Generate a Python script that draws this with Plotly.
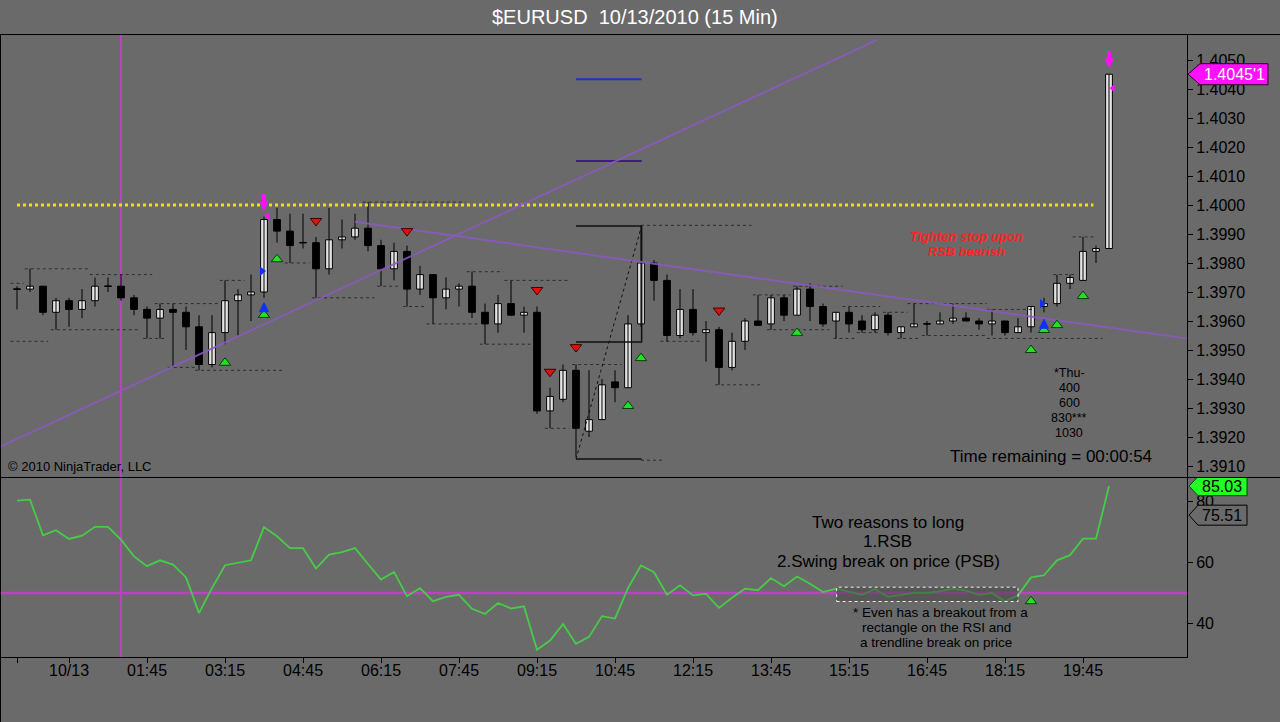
import plotly.graph_objects as go

W, H = 1280, 722
FONT = "Liberation Sans, Arial, sans-serif"

# ---------------- data ----------------
tick_k = [0, 4, 10, 16, 22, 28, 34, 40, 46, 52, 58, 64, 70, 76, 82]
tick_text = ['', '10/13', '01:45', '03:15', '04:45', '06:15', '07:45', '09:15',
             '10:45', '12:15', '13:45', '15:15', '16:45', '18:15', '19:45']

opens = [1.3971, 1.3971, 1.3972, 1.3963, 1.3967, 1.3964, 1.3967, 1.3972, 1.3972, 1.3968,
         1.3964, 1.3961, 1.3964, 1.3963, 1.3958, 1.3945, 1.3956, 1.3967, 1.3969, 1.3970,
         1.3995, 1.3991, 1.3987, 1.3987, 1.3978, 1.3988, 1.3989, 1.3992, 1.3986, 1.3978,
         1.3984, 1.3971, 1.3976, 1.3968, 1.3971, 1.3972, 1.3963, 1.3959, 1.3966, 1.3962,
         1.3963, 1.3929, 1.3933, 1.3943, 1.3922, 1.3926, 1.3939, 1.3937, 1.3959, 1.3980,
         1.3974, 1.3955, 1.3964, 1.3956, 1.3957, 1.3944, 1.3953, 1.3960, 1.3959, 1.3968,
         1.3962, 1.3971, 1.3965, 1.3960, 1.3963, 1.3960, 1.3957, 1.3962, 1.3956, 1.3958,
         1.3959, 1.3959, 1.3960, 1.3961, 1.3960, 1.3959, 1.3960, 1.3956, 1.3958, 1.3965,
         1.3966, 1.3973, 1.3974, 1.3984, 1.3985]
highs = [1.3972, 1.3978, 1.3972, 1.3968, 1.3968, 1.3971, 1.3975, 1.3975, 1.3976, 1.3969,
         1.3965, 1.3966, 1.3966, 1.3965, 1.3962, 1.3962, 1.3974, 1.3971, 1.3976, 1.3996,
         1.3999, 1.3997, 1.3997, 1.3989, 1.3999, 1.3995, 1.3997, 1.4001, 1.3988, 1.3987,
         1.3986, 1.3979, 1.3976, 1.3975, 1.3973, 1.3977, 1.3966, 1.3969, 1.3974, 1.3965,
         1.3965, 1.3937, 1.3945, 1.3945, 1.3943, 1.3940, 1.3943, 1.3962, 1.3993, 1.3981,
         1.3976, 1.3971, 1.3971, 1.3960, 1.3958, 1.3956, 1.3961, 1.3969, 1.3969, 1.3969,
         1.3972, 1.3973, 1.3966, 1.3963, 1.3965, 1.3962, 1.3963, 1.3963, 1.3958, 1.3966,
         1.3960, 1.3963, 1.3966, 1.3963, 1.3961, 1.3964, 1.3960, 1.3961, 1.3965, 1.3968,
         1.3976, 1.3976, 1.3989, 1.3986, 1.40451]
lows = [1.3964, 1.3970, 1.3962, 1.3957, 1.3958, 1.3961, 1.3965, 1.3970, 1.3967, 1.3962,
        1.3954, 1.3954, 1.3944, 1.3950, 1.3943, 1.3944, 1.3952, 1.3955, 1.3960, 1.3968,
        1.3987, 1.3980, 1.3985, 1.3968, 1.3976, 1.3985, 1.3988, 1.3984, 1.3972, 1.3974,
        1.3965, 1.3969, 1.3959, 1.3964, 1.3965, 1.3961, 1.3952, 1.3956, 1.3962, 1.3956,
        1.3928, 1.3923, 1.3932, 1.3913, 1.3920, 1.3926, 1.3932, 1.3937, 1.3958, 1.3967,
        1.3953, 1.3954, 1.3955, 1.3946, 1.3938, 1.3943, 1.3950, 1.3959, 1.3957, 1.3960,
        1.3962, 1.3960, 1.3958, 1.3954, 1.3956, 1.3956, 1.3956, 1.3955, 1.3954, 1.3958,
        1.3955, 1.3959, 1.3959, 1.3960, 1.3957, 1.3955, 1.3955, 1.3956, 1.3956, 1.3963,
        1.3965, 1.3971, 1.3974, 1.3980, 1.3985]
closes = [1.3971, 1.3972, 1.3963, 1.3967, 1.3964, 1.3967, 1.3972, 1.3972, 1.3968, 1.3964,
          1.3961, 1.3964, 1.3963, 1.3958, 1.3945, 1.3956, 1.3967, 1.3969, 1.3970, 1.3995,
          1.3991, 1.3986, 1.3987, 1.3978, 1.3988, 1.3989, 1.3992, 1.3986, 1.3978, 1.3984,
          1.3971, 1.3976, 1.3968, 1.3971, 1.3972, 1.3963, 1.3959, 1.3966, 1.3962, 1.3963,
          1.3929, 1.3934, 1.3943, 1.3923, 1.3926, 1.3938, 1.3937, 1.3959, 1.3980, 1.3974,
          1.3955, 1.3964, 1.3956, 1.3957, 1.3944, 1.3953, 1.3960, 1.39585, 1.3968, 1.3962,
          1.3971, 1.3965, 1.3959, 1.3963, 1.3959, 1.3957, 1.3962, 1.3956, 1.3958, 1.3959,
          1.3959, 1.3960, 1.3961, 1.3960, 1.3959, 1.3960, 1.3956, 1.3958, 1.3965, 1.3966,
          1.3973, 1.3975, 1.3984, 1.3985, 1.40451]

rsi = [80.3, 80.6, 68.9, 70.6, 67.7, 68.8, 71.7, 71.7, 67.5, 62.0,
       58.8, 60.7, 59.3, 55.1, 43.4, 51.6, 59.1, 59.8, 60.7, 71.6,
       68.6, 64.7, 64.7, 58.0, 62.6, 63.4, 64.7, 59.5, 54.4, 56.9,
       48.9, 51.6, 47.3, 48.7, 49.4, 44.8, 43.1, 46.7, 44.9, 45.6,
       31.4, 34.4, 39.8, 33.3, 35.6, 42.4, 41.6, 51.6, 59.0, 56.8,
       49.4, 52.5, 49.2, 49.7, 45.1, 48.4, 51.4, 50.9, 54.9, 52.2,
       55.4, 53.0, 50.3, 51.4, 50.3, 49.4, 51.3, 48.7, 49.4, 50.0,
       50.0, 50.5, 51.4, 50.8, 49.4, 50.0, 47.3, 49.2, 55.1, 55.8,
       60.7, 62.4, 67.8, 67.8, 85.03]
rsi_avg_last = 75.51
rsi_mid = 50

# swing high/low dashed lines (start bar, end bar, price)
swing_k0 = [-0.5, 0.6, -0.5, 2.6, 5.6, 9.7, 10.6, 11.6, 13.7, 15.6, 20.6, 26.6, 22.7,
            27.7, 29.7, 31.5, 34.6, 37.5, 35.6, 40.6, 42.7, 48.0, 48.0, 49.5, 53.7,
            56.6, 59.7, 57.7, 63.5, 62.8, 64.6, 66.6, 67.7, 68.5, 69.6, 74.6, 74.6,
            79.7, 81.2]
swing_k1 = [0.5, 5.5, 2.4, 9.5, 10.4, 11.5, 15.6, 13.7, 20.5, 17.5, 22.5, 34.5, 27.5,
            29.5, 31.5, 35.5, 37.4, 42.5, 39.5, 42.5, 46.5, 56.5, 49.7, 52.5, 57.4,
            59.5, 63.5, 62.5, 66.4, 64.5, 66.4, 68.5, 69.5, 74.6, 74.5, 78.2, 83.5,
            81.4, 82.8]
swing_p = [1.3973, 1.3978, 1.3953, 1.3957, 1.3976, 1.3954, 1.3966, 1.3944, 1.3943,
           1.3974, 1.3980, 1.4001, 1.3968, 1.3972, 1.3965, 1.3959, 1.3977, 1.3974,
           1.3952, 1.3923, 1.3945, 1.3993, 1.3912, 1.3953, 1.3938, 1.3969, 1.3972,
           1.3957, 1.3965, 1.3954, 1.3956, 1.3963, 1.3954, 1.3966, 1.3955, 1.3964,
           1.3954, 1.3976, 1.3989]

# signal markers
sell_k = [23, 30, 40, 41, 43, 54]
sell_p = [1.39945, 1.3991, 1.39707, 1.39425, 1.3951, 1.39636]
buy_k = [16, 19, 20, 47, 48, 60, 78, 79, 80, 82]
buy_p = [1.39456, 1.39621, 1.39813, 1.39307, 1.39472, 1.39559, 1.3950, 1.39569, 1.39586, 1.39686]
rsi_buy_k = [78]
rsi_buy_v = [47.3]
blue_arrow_k = [19, 79]
blue_arrow_p = [1.39663, 1.39606]
blue_flag_k = [18.85, 78.85]
blue_flag_p = [1.39772, 1.3966]
mag_arrow_k = [19, 84]
mag_arrow_p = [1.39983, 1.40476]
mag_tri_k = [19.3, 84.3]
mag_tri_p = [1.39962, 1.40403]

# drawings
pivot_level = 1.4000
pivot_k = [0, 82.8]
trend1_k = [-1.31, 66.15]
trend1_p = [1.39166, 1.40569]
trend2_k = [26.0, 90.0]
trend2_p = [1.39942, 1.39540]
zig_k = [43, 48.05]
zig_top, zig_mid, zig_bot = 1.39928, 1.39528, 1.39124
fib_p = [1.40434, 1.40152]
cross_k = 8
rsi_box_k = [63.05, 77.0]
rsi_box_v = [47.2, 51.9]

# ---------------- helpers ----------------
def px(x):
    return x / W


def py(y):
    return 1 - y / H


BG = '#6a6a6a'
price_range = [1.390621, 1.405862]
rsi_range = [29.0, 87.7]
px_per_price = 29000.0
px_per_rsi = 3.05

fig = go.Figure()

# swing dashed lines
sx, sy = [], []
for a, b, p in zip(swing_k0, swing_k1, swing_p):
    sx += [a, b, None]
    sy += [p, p, None]
fig.add_trace(go.Scatter(x=sx, y=sy, mode='lines', xaxis='x', yaxis='y',
                         line=dict(color='#2e2e2e', width=1, dash='dot'), hoverinfo='skip'))

# wicks
n = len(opens)
wx, wy = [], []
for k in range(n):
    wx += [k, k, None]
    wy += [lows[k], highs[k], None]
fig.add_trace(go.Scatter(x=wx, y=wy, mode='lines', xaxis='x', yaxis='y',
                         line=dict(color='black', width=1), hoverinfo='skip'))

# bodies
base, hgt, cols = [], [], []
for k in range(n):
    lo = min(opens[k], closes[k])
    hi = max(opens[k], closes[k])
    h = max(hi - lo, 0.00002)
    base.append(lo if hi - lo >= 0.00002 else lo - 0.00001)
    hgt.append(h)
    cols.append('#e4e4e4' if closes[k] > opens[k] else 'black')
fig.add_trace(go.Bar(x=list(range(n)), y=hgt, base=base, width=0.52, xaxis='x', yaxis='y',
                     marker=dict(color=cols, line=dict(color='black', width=1)), hoverinfo='skip'))

# zigzag drawing
fig.add_trace(go.Scatter(
    x=[zig_k[0], zig_k[1], None, zig_k[0], zig_k[1], zig_k[1], None, zig_k[0], zig_k[1]],
    y=[zig_top, zig_top, None, zig_mid, zig_mid, zig_top, None, zig_bot, zig_bot],
    mode='lines', xaxis='x', yaxis='y', line=dict(color='#111111', width=1.5), hoverinfo='skip'))
fig.add_trace(go.Scatter(x=[zig_k[0], zig_k[1]], y=[zig_bot, zig_top], mode='lines', xaxis='x', yaxis='y',
                         line=dict(color='#111111', width=1, dash='dot'), hoverinfo='skip'))
fig.add_trace(go.Scatter(x=zig_k, y=[fib_p[0]] * 2, mode='lines', xaxis='x', yaxis='y',
                         line=dict(color='#2232c8', width=2), hoverinfo='skip'))
fig.add_trace(go.Scatter(x=zig_k, y=[fib_p[1]] * 2, mode='lines', xaxis='x', yaxis='y',
                         line=dict(color='#3c1c86', width=2), hoverinfo='skip'))

# pivot yellow dotted line
fig.add_trace(go.Scatter(x=pivot_k, y=[pivot_level] * 2, mode='lines', xaxis='x', yaxis='y',
                         line=dict(color='#ece400', width=3, dash='dot'), hoverinfo='skip'))

# trend lines
for tk, tp in ((trend1_k, trend1_p), (trend2_k, trend2_p)):
    fig.add_trace(go.Scatter(x=tk, y=tp, mode='lines', xaxis='x', yaxis='y', opacity=0.85,
                             line=dict(color='#8a5ac0', width=2), hoverinfo='skip'))

# markers
fig.add_trace(go.Scatter(x=sell_k, y=sell_p, mode='markers', xaxis='x', yaxis='y',
                         marker=dict(symbol='triangle-down', size=10, color='#e01010',
                                     line=dict(color='#400000', width=1)), hoverinfo='skip'))
fig.add_trace(go.Scatter(x=buy_k, y=buy_p, mode='markers', xaxis='x', yaxis='y',
                         marker=dict(symbol='triangle-up', size=10, color='#22e022',
                                     line=dict(color='#064006', width=1)), hoverinfo='skip'))
fig.add_trace(go.Scatter(x=blue_arrow_k, y=blue_arrow_p, mode='markers', xaxis='x', yaxis='y',
                         marker=dict(symbol='arrow-up', size=9, color='#1030ff',
                                     line=dict(color='#1030ff', width=1)), hoverinfo='skip'))
fig.add_trace(go.Scatter(x=blue_flag_k, y=blue_flag_p, mode='markers', xaxis='x', yaxis='y',
                         marker=dict(symbol='triangle-right', size=8, color='#1030ff',
                                     line=dict(width=0)), hoverinfo='skip'))
# magenta arrows: stem + head
stem_x, stem_y = [], []
for k, p in zip(mag_arrow_k, mag_arrow_p):
    stem_x += [k, k, None]
    stem_y += [p + 7 / px_per_price, p + 16 / px_per_price, None]
fig.add_trace(go.Scatter(x=stem_x, y=stem_y, mode='lines', xaxis='x', yaxis='y',
                         line=dict(color='#ff10ff', width=4), hoverinfo='skip'))
fig.add_trace(go.Scatter(x=mag_arrow_k, y=mag_arrow_p, mode='markers', xaxis='x', yaxis='y',
                         marker=dict(symbol='arrow-down', size=8, color='#ff10ff',
                                     line=dict(color='#ff10ff', width=1)), hoverinfo='skip'))
fig.add_trace(go.Scatter(x=mag_tri_k, y=mag_tri_p, mode='markers', xaxis='x', yaxis='y',
                         marker=dict(symbol='triangle-left', size=7, color='#ff10ff',
                                     line=dict(width=0)), hoverinfo='skip'))

# RSI panel
fig.add_trace(go.Scatter(x=[rsi_box_k[0] - 70, rsi_box_k[1] + 20], y=[rsi_mid, rsi_mid], mode='lines',
                         xaxis='x', yaxis='y2', line=dict(color='#bf40c2', width=2.5), hoverinfo='skip'))
fig.add_trace(go.Scatter(x=list(range(n)), y=rsi, mode='lines', xaxis='x', yaxis='y2',
                         line=dict(color='#46cc46', width=1.8), hoverinfo='skip'))
fig.add_trace(go.Scatter(x=rsi_buy_k, y=rsi_buy_v, mode='markers', xaxis='x', yaxis='y2',
                         marker=dict(symbol='triangle-up', size=10, color='#22e022',
                                     line=dict(color='#064006', width=1)), hoverinfo='skip'))

# ---------------- shapes ----------------
shapes = []
shapes.append(dict(type='line', xref='x', yref='paper', x0=cross_k, x1=cross_k,
                   y0=py(657), y1=py(35), line=dict(color='#bf40c2', width=2), layer='below'))
shapes.append(dict(type='rect', xref='x', yref='y2', x0=rsi_box_k[0], x1=rsi_box_k[1],
                   y0=rsi_box_v[0], y1=rsi_box_v[1], fillcolor='rgba(70,70,70,0.55)',
                   line=dict(color='#f0f0f0', width=1, dash='dot'), layer='above'))
for yy in (34.5, 477.5):
    shapes.append(dict(type='line', xref='paper', yref='paper', x0=0, x1=1, y0=py(yy), y1=py(yy),
                       line=dict(color='black', width=1)))
shapes.append(dict(type='line', xref='paper', yref='paper', x0=px(0.5), x1=px(0.5), y0=0, y1=py(34.5),
                   line=dict(color='black', width=1)))


def tag_path(x_tip, x_left, x_right, yc, half):
    return (f"M {px(x_tip)},{yc} L {px(x_left)},{yc + half} L {px(x_right)},{yc + half} "
            f"L {px(x_right)},{yc - half} L {px(x_left)},{yc - half} Z")


last_close = closes[-1]
shapes.append(dict(type='path', xref='paper', yref='y',
                   path=tag_path(1188, 1200, 1268, last_close, 10.5 / px_per_price),
                   fillcolor='#ff10ff', line=dict(color='#300030', width=1), layer='above'))
shapes.append(dict(type='path', xref='paper', yref='y2',
                   path=tag_path(1189, 1198, 1247, rsi_avg_last, 10 / px_per_rsi),
                   fillcolor=BG, line=dict(color='black', width=1), layer='above'))
shapes.append(dict(type='path', xref='paper', yref='y2',
                   path=tag_path(1189, 1198, 1247, rsi[-1], 9.5 / px_per_rsi),
                   fillcolor='#22ff22', line=dict(color='#064006', width=1), layer='above'))

# ---------------- annotations ----------------
def txt(x, y, s, size, color='black', xanchor='center'):
    return dict(x=px(x), y=py(y), xref='paper', yref='paper', text=s, showarrow=False,
                font=dict(family=FONT, size=size, color=color), xanchor=xanchor, yanchor='middle')


ann = []
ann.append(txt(635, 17, '$EURUSD\u00a0 10/13/2010 (15 Min)', 20, 'white'))
ann.append(txt(6, 466, '\u00a9 2010 NinjaTrader, LLC', 13, 'black', 'left'))
ann.append(txt(1154, 456, 'Time remaining = 00:00:54', 17, 'black', 'right'))
for i, s in enumerate(['*Thu-', '400', '600', '830***', '1030']):
    ann.append(txt(1069, 373 + 15 * i, s, 12.5))
ann.append(txt(966, 237, '<b><i>Tighten stop upon</i></b>', 13, '#ff2222'))
ann.append(txt(966, 251, '<b><i>RSB bearish</i></b>', 13, '#ff2222'))
ann.append(txt(888, 522, 'Two reasons to long', 17))
ann.append(txt(887, 541, '1.RSB', 17))
ann.append(txt(888, 561, '2.Swing break on price (PSB)', 17))
ann.append(txt(940, 612, '* Even has a breakout from a', 13.5))
ann.append(txt(936, 627, 'rectangle on the RSI and', 13.5))
ann.append(txt(936, 642, 'a trendline break on price', 13.5))

lc = f"{last_close:.5f}"
ann.append(dict(x=px(1234), y=last_close, xref='paper', yref='y', text=lc[:-1] + "'" + lc[-1],
                showarrow=False, font=dict(family=FONT, size=16, color='white'),
                xanchor='center', yanchor='middle'))
ann.append(dict(x=px(1222), y=rsi[-1], xref='paper', yref='y2', text=f"{rsi[-1]:.2f}",
                showarrow=False, font=dict(family=FONT, size=16, color='black'),
                xanchor='center', yanchor='middle'))
ann.append(dict(x=px(1222), y=rsi_avg_last, xref='paper', yref='y2', text=f"{rsi_avg_last:.2f}",
                showarrow=False, font=dict(family=FONT, size=16, color='black'),
                xanchor='center', yanchor='middle'))

axis_common = dict(showgrid=False, zeroline=False, showline=True, linecolor='black', linewidth=1,
                   ticks='outside', ticklen=5, tickcolor='black', tickwidth=1,
                   tickfont=dict(family=FONT, size=16, color='black'), automargin=False,
                   fixedrange=True)

fig.update_layout(
    width=W, height=H, margin=dict(l=0, r=0, t=0, b=0),
    paper_bgcolor=BG, plot_bgcolor='rgba(0,0,0,0)', showlegend=False,
    barmode='overlay',
    xaxis=dict(domain=[0, px(1187)], range=[-1.308, 90.0], anchor='y2',
               tickmode='array', tickvals=tick_k, ticktext=tick_text, ticklabelstandoff=-6,
               **axis_common),
    yaxis=dict(domain=[py(477), py(35)], range=price_range, side='right', anchor='x',
               tick0=1.391, dtick=0.001, tickformat='.4f', **axis_common),
    yaxis2=dict(domain=[py(657), py(478)], range=rsi_range, side='right', anchor='x',
                tickmode='array', tickvals=[40, 60, 80], **axis_common),
    shapes=shapes, annotations=ann,
)

fig.write_html("out.html", config={'displayModeBar': False},
               post_script="document.body.style.margin='0';document.body.style.overflow='hidden';")
